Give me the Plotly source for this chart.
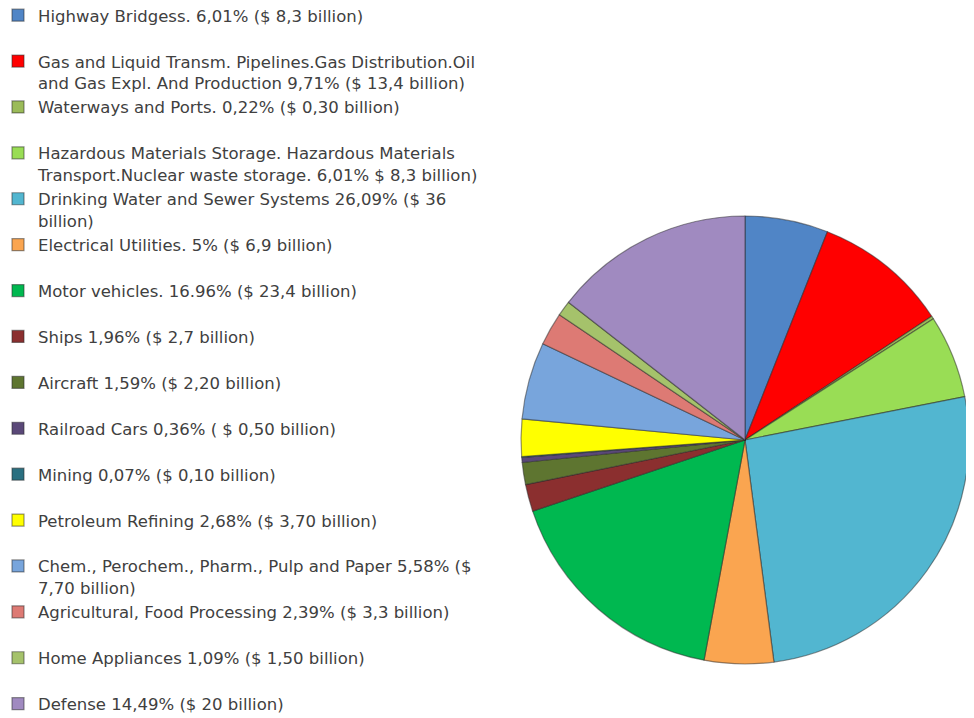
import plotly.graph_objects as go

# sectors, in legend order (pie goes clockwise from 12 o'clock)
labels = [
    "Highway Bridgess. 6,01% ($ 8,3 billion)",
    "Gas and Liquid Transm. Pipelines.Gas Distribution.Oil<br>and Gas Expl. And Production 9,71% ($ 13,4 billion)",
    "Waterways and Ports. 0,22% ($ 0,30 billion)",
    "Hazardous Materials Storage. Hazardous Materials<br>Transport.Nuclear waste storage. 6,01% $ 8,3 billion)",
    "Drinking Water and Sewer Systems 26,09% ($ 36<br>billion)",
    "Electrical Utilities. 5% ($ 6,9 billion)",
    "Motor vehicles. 16.96% ($ 23,4 billion)",
    "Ships 1,96% ($ 2,7 billion)",
    "Aircraft 1,59% ($ 2,20 billion)",
    "Railroad Cars 0,36% ( $ 0,50 billion)",
    "Mining 0,07% ($ 0,10 billion)",
    "Petroleum Refining 2,68% ($ 3,70 billion)",
    "Chem., Perochem., Pharm., Pulp and Paper 5,58% ($<br>7,70 billion)",
    "Agricultural, Food Processing 2,39% ($ 3,3 billion)",
    "Home Appliances 1,09% ($ 1,50 billion)",
    "Defense 14,49% ($ 20 billion)",
]
percent = [6.01, 9.71, 0.22, 6.01, 26.09, 5, 16.96, 1.96, 1.59, 0.36, 0.07, 2.68, 5.58, 2.39, 1.09, 14.49]
colors = ["#5085C6", "#FF0000", "#9BBB59", "#99DD55", "#52B6D0", "#FAA550", "#00B850", "#8B2F2F",
          "#5E7530", "#5A4878", "#2A6F80", "#FFFF00", "#78A5DC", "#DD7A74", "#A5C26B", "#A08AC0"]

# every legend entry takes two lines so the rows are evenly spaced
legend_text = [t if "<br>" in t else t + "<br> " for t in labels]

fig = go.Figure(go.Pie(
    labels=legend_text,
    values=percent,
    sort=False,
    direction="clockwise",
    rotation=0,
    textinfo="none",
    hoverinfo="label+percent",
    marker=dict(colors=colors, line=dict(color="rgba(40,40,40,0.5)", width=1.2)),
    domain=dict(x=[0.5267, 0.9867], y=[0.0864, 0.7103]),
))

fig.update_layout(
    width=974, height=718,
    margin=dict(l=0, r=0, t=0, b=0, autoexpand=False),
    paper_bgcolor="white",
    font=dict(family="DejaVu Sans", size=16.5, color="#404040"),
    legend=dict(x=0, y=1.014, xanchor="left", yanchor="top", valign="top", indentation=-10,
                traceorder="normal", itemclick=False, maxheight=1000),
)

fig.write_html("out.html")
